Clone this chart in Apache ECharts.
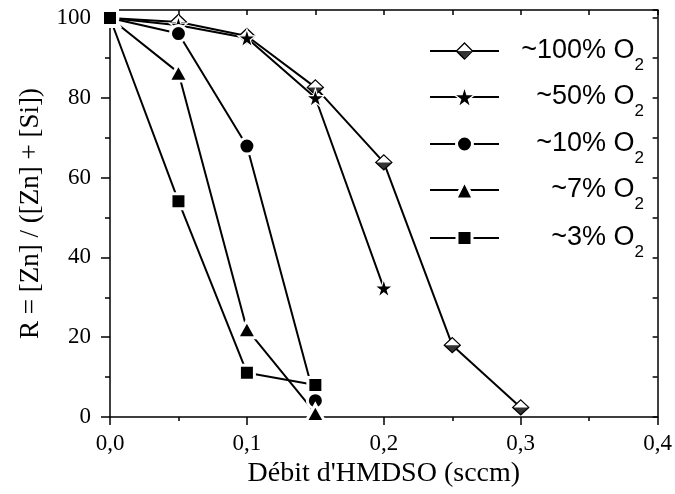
<!DOCTYPE html>
<html>
<head>
<meta charset="utf-8">
<script src="https://cdn.jsdelivr.net/npm/echarts@6/dist/echarts.min.js"></script>
<style>
html,body{margin:0;padding:0;background:#fff;}
#chart{width:675px;height:494px;}
</style>
</head>
<body>
<div id="chart"></div>
<script>
// ---- data ----
const flow = [0, 0.05, 0.1, 0.15, 0.2, 0.25, 0.3];      // Débit d'HMDSO (sccm)
const o100 = [100, 99, 95.5, 82.6, 63.8, 18, 2.4];     // ~100% O2
const o50  = [100, 98.2, 95, 80, 32.3];                // ~50% O2
const o10  = [100, 96.1, 67.9, 4.1];                   // ~10% O2
const o7   = [100, 86.3, 22, 1];                       // ~7% O2
const o3   = [100, 54.1, 11.1, 8];                     // ~3% O2
const seriesNames = ['~100% O', '~50% O', '~10% O', '~7% O', '~3% O'];
const xTicks = [0, 0.1, 0.2, 0.3, 0.4];
const yTicks = [0, 20, 40, 60, 80, 100];

function pts(vals) { return vals.map((v, i) => [flow[i], v]); }

const STAR = 'path://M1,0 L1.2245,0.691 L1.9511,0.691 L1.3633,1.118 L1.5878,1.809 L1,1.382 L0.4122,1.809 L0.6367,1.118 L0.0489,0.691 L0.7755,0.691 Z';
const HALF = 'path://M0,0 L0.01,0 L0,0.01 Z M2.5,2.5 L2.49,2.5 L2.5,2.49 Z M0.25,1.25 L2.25,1.25 L1.25,2.25 Z';

const sansFont = 'Liberation Sans, Arial, sans-serif';
const serifFont = 'Liberation Serif, Times New Roman, serif';

function richFor(color) {
  return {
    a: {fontFamily: sansFont, fontSize: 27, color: color, lineHeight: 45, align: 'right', verticalAlign: 'middle'},
    b: {fontFamily: sansFont, fontSize: 17, color: color, lineHeight: 16, align: 'right', verticalAlign: 'bottom'}
  };
}

const lineStyle = {color: '#000', width: 2};
const whiteGap = {color: '#000', borderColor: '#fff', borderWidth: 3};

const series = [
  {name: 's100', type: 'line', data: pts(o100), symbol: 'diamond', symbolSize: [16, 15],
   lineStyle: lineStyle, itemStyle: {color: '#fff', borderColor: '#000', borderWidth: 1.3}},
  {name: 's100half', type: 'scatter', z: 3, data: pts(o100), symbol: HALF, symbolSize: [20, 18.75],
   itemStyle: {color: '#000', borderWidth: 0}},
  {name: 's50', type: 'line', z: 4, data: pts(o50), symbol: STAR, symbolSize: 18, lineStyle: lineStyle,
   itemStyle: {color: '#000', borderColor: '#fff', borderWidth: 1.2}},
  {name: 's10', type: 'line', z: 4, data: pts(o10), symbol: 'circle', symbolSize: 16, lineStyle: lineStyle, itemStyle: whiteGap},
  {name: 's7', type: 'line', z: 4, data: pts(o7), symbol: 'triangle', symbolSize: [19, 17], lineStyle: lineStyle, itemStyle: whiteGap},
  {name: 's3', type: 'line', z: 4, data: pts(o3), symbol: 'rect', symbolSize: 15, lineStyle: lineStyle, itemStyle: whiteGap}
];
series.forEach(s => { s.animation = false; });

const legendKeys = ['s100', 's50', 's10', 's7', 's3'];
const legendTops = [37.5, 83.5, 130.5, 176.5, 224.5];
const legendHeights = [20, 26, 20, 22.5, 18.8];
function mkLegend(key, idx, transparent) {
  const label = seriesNames[idx];
  const iw = transparent ? legendHeights[idx] : 69;
  return {
    data: [key], left: transparent ? 429 + (69 - iw) / 2 : 429, top: legendTops[idx], orient: 'vertical', padding: 0,
    itemWidth: iw, itemHeight: legendHeights[idx], selectedMode: false,
    itemStyle: transparent ? {borderWidth: 0} :
      (idx === 0 ? {color: '#fff', borderColor: '#000', borderWidth: 1.3} :
       idx === 1 ? {borderColor: '#fff', borderWidth: 1.5} : {borderColor: '#fff', borderWidth: 3}),
    lineStyle: {color: '#000', width: 2},
    formatter: () => '{a|' + label + '}{b|2}',
    textStyle: {width: 140, overflow: 'none', color: transparent ? 'rgba(0,0,0,0)' : '#000', rich: richFor(transparent ? 'rgba(0,0,0,0)' : '#000')}
  };
}
const legends = legendKeys.map((k, i) => mkLegend(k, i, false));
legends.push(mkLegend('s100half', 0, true));

const axisLineStyle = {color: '#000', width: 1.5};
const chart = echarts.init(document.getElementById('chart'), null, {renderer: 'canvas'});
chart.setOption({
  animation: false,
  backgroundColor: '#fff',
  grid: {left: 110, right: 17, top: 10, bottom: 77, containLabel: false},
  legend: legends,
  xAxis: [
    {type: 'value', position: 'bottom', min: xTicks[0], max: xTicks[xTicks.length - 1], interval: 0.1,
     axisLine: {onZero: false, lineStyle: axisLineStyle},
     axisTick: {inside: false, length: 8, lineStyle: axisLineStyle},
     minorTick: {show: true, splitNumber: 2, length: 4, lineStyle: axisLineStyle},
     splitLine: {show: false},
     axisLabel: {margin: 15, color: '#000', fontFamily: serifFont, fontSize: 23,
       formatter: v => v.toFixed(1).replace('.', ',')},
     name: "Débit d'HMDSO (sccm)", nameLocation: 'middle', nameGap: 42,
     nameTextStyle: {color: '#000', fontFamily: serifFont, fontSize: 28}},
    {type: 'value', position: 'top', min: 0, max: 0.4, interval: 0.05,
     axisLine: {onZero: false, lineStyle: axisLineStyle},
     axisTick: {inside: true, length: 5, lineStyle: axisLineStyle},
     axisLabel: {show: false}, splitLine: {show: false}}
  ],
  yAxis: [
    {type: 'value', position: 'left', min: yTicks[0], max: 102, interval: 20,
     axisLine: {onZero: false, lineStyle: axisLineStyle},
     axisTick: {inside: false, length: 9, lineStyle: axisLineStyle},
     minorTick: {show: true, splitNumber: 2, length: 5, lineStyle: axisLineStyle},
     splitLine: {show: false},
     axisLabel: {margin: 19, color: '#000', fontFamily: serifFont, fontSize: 23, showMaxLabel: false,
       formatter: v => (yTicks.indexOf(v) >= 0 ? String(v) : '')},
     name: 'R = [Zn] / ([Zn] + [Si])', nameLocation: 'middle', nameGap: 66,
     nameTextStyle: {color: '#000', fontFamily: serifFont, fontSize: 27}},
    {type: 'value', position: 'right', min: 0, max: 102, interval: 10,
     axisLine: {onZero: false, lineStyle: axisLineStyle},
     axisTick: {inside: true, length: 5, lineStyle: axisLineStyle},
     axisLabel: {show: false}, splitLine: {show: false}}
  ],
  series: series
});
</script>
</body>
</html>
